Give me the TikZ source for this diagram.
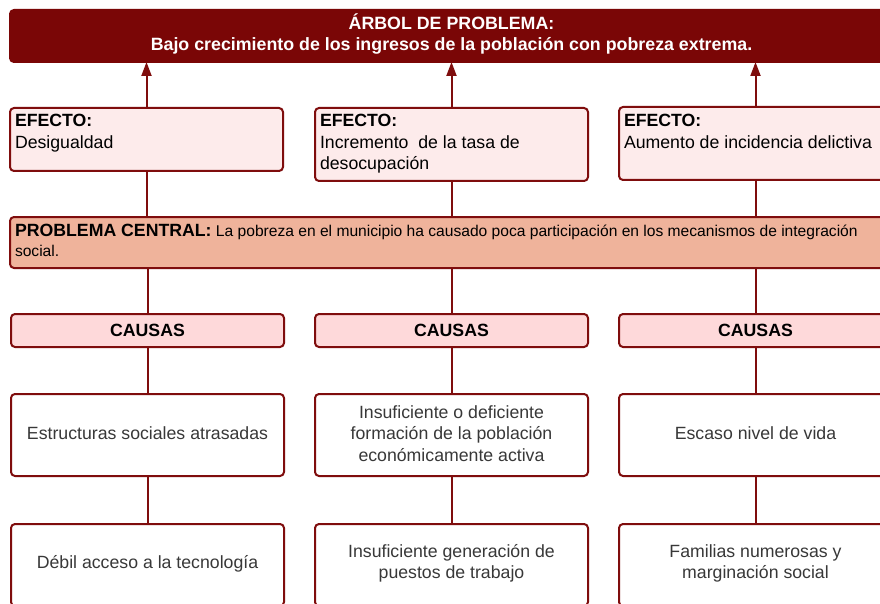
\documentclass[tikz,border=0pt]{standalone}
\usepackage{fontspec}
\setmainfont{Liberation Sans}
\usetikzlibrary{arrows.meta}
\definecolor{dred}{HTML}{7A0606}
\definecolor{bord}{HTML}{7F0D0D}
\definecolor{efill}{HTML}{FDEBEB}
\definecolor{pfill}{HTML}{EFB39B}
\definecolor{cfill}{HTML}{FED9DA}
\definecolor{ctext}{HTML}{383838}
\begin{document}
\begin{tikzpicture}[x=1pt,y=-1pt,
  box/.style={draw=bord, line width=2pt, rounded corners=4pt, anchor=north west,
    minimum width=273pt, inner sep=0pt, outer sep=0pt,
    font=\fontsize{17.7}{21.5}\selectfont, align=center, text=ctext},
  efbox/.style={box, fill=efill},
  cabox/.style={box, fill=cfill, minimum height=33pt, text=black, font=\fontsize{17.7}{21.5}\selectfont\bfseries},
  cbox/.style={box, fill=white, minimum height=82pt},
  ctxt/.style={inner sep=0pt, align=center, text=ctext, font=\fontsize{17.7}{21.5}\selectfont, yshift=1.5pt},
  txt/.style={inner sep=0pt, outer sep=0pt, align=left, anchor=north west,
    font=\fontsize{17.7}{21.5}\selectfont},
  conn/.style={draw=bord, line width=2pt},
  arr/.style={draw=bord, line width=2pt, -{Triangle[length=14pt,width=10pt]}}]
\clip (0,0) rectangle (880,604);
\fill[white] (0,0) rectangle (880,604);
% title
\node[box, fill=dred, draw=dred, minimum width=882pt, minimum height=52pt] (title) at (10,10) {};
\node[inner sep=0pt, align=center, anchor=north, text=white,
  font=\fontsize{17.8}{21.5}\selectfont\bfseries] (titletext) at (451.5,12.3)
  {\rule{0pt}{17pt}ÁRBOL DE PROBLEMA:\\Bajo crecimiento de los ingresos de la población con pobreza extrema.};
% efectos
\node[efbox, minimum height=63pt] (e1) at (10,108) {};
\node[efbox, minimum height=73pt] (e2) at (315,108) {};
\node[efbox, minimum height=73pt] (e3) at (619,107) {};
\node[txt] (e1t) at (15,110) {\rule{0pt}{17pt}\textbf{EFECTO:}\\Desigualdad};
\node[txt] (e2t) at (320,110) {\rule{0pt}{17pt}\textbf{EFECTO:}\\Incremento~ de la tasa de\\desocupación};
\node[txt] (e3t) at (624,110) {\rule{0pt}{17pt}\textbf{EFECTO:}\\Aumento de incidencia delictiva};
% problema central
\node[box, fill=pfill, minimum width=882pt, minimum height=51pt] (prob) at (10,217) {};
\node[txt, font=\fontsize{15.6}{20}\selectfont] (probt) at (15,219.7)
  {\rule{0pt}{17pt}{\fontsize{17.7}{20}\selectfont\bfseries PROBLEMA CENTRAL:} La pobreza en el municipio ha causado poca participación en los mecanismos de integración\\social.};
% causas
\node[cabox] (k1) at (11,314) {CAUSAS};
\node[cabox] (k2) at (315,314) {CAUSAS};
\node[cabox] (k3) at (619,314) {CAUSAS};
\node[cbox] (c1) at (11,394) {};
\node[cbox] (c2) at (315,394) {};
\node[cbox] (c3) at (619,394) {};
\node[cbox] (d1) at (11,524) {};
\node[cbox] (d2) at (315,524) {};
\node[cbox] (d3) at (619,524) {};
\node[ctxt] (c1t) at (c1.center) {Estructuras sociales atrasadas};
\node[ctxt] (c2t) at (c2.center) {Insuficiente o deficiente\\formación de la población\\económicamente activa};
\node[ctxt] (c3t) at (c3.center) {Escaso nivel de vida};
\node[ctxt] (d1t) at (d1.center) {Débil acceso a la tecnología};
\node[ctxt] (d2t) at (d2.center) {Insuficiente generación de\\puestos de trabajo};
\node[ctxt] (d3t) at (d3.center) {Familias numerosas y\\marginación social};
% connectors
\foreach \e in {e1,e2,e3}{
  \draw[arr] (\e.north) -- (\e.north |- title.south);
  \draw[conn] (\e.south) -- (\e.south |- prob.north);
}
\foreach \k/\c/\d in {k1/c1/d1,k2/c2/d2,k3/c3/d3}{
  \draw[conn] (\k.north |- prob.south) -- (\k.north);
  \draw[conn] (\k.south) -- (\c.north);
  \draw[conn] (\c.south) -- (\d.north);
}
\end{tikzpicture}
\end{document}
